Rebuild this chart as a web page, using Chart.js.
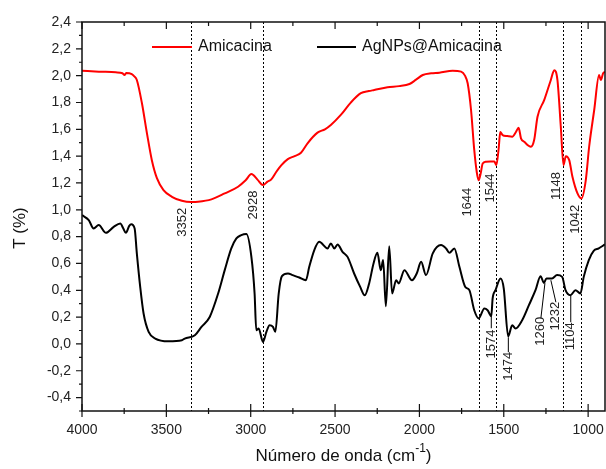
<!DOCTYPE html>
<html>
<head>
<meta charset="utf-8">
<script src="https://cdn.jsdelivr.net/npm/chart.js@4"></script>
<style>html,body{margin:0;background:#fff}</style>
</head>
<body>
<canvas id="ftir" width="606" height="469"></canvas>
<script>
// espectro FTIR: número de onda (cm-1) y transmitancia
const amicacinaWave = [4000,3900,3800,3760,3748,3738,3705,3690,3675,3645,3615,3586,3556,3517,3467,3408,3352,3312,3233,3154,3075,3030,2996,2960,2928,2900,2878,2850,2818,2780,2740,2702,2663,2604,2560,2525,2466,2407,2347,2300,2268,2189,2120,2059,2020,1980,1930,1882,1803,1753,1730,1714,1694,1675,1660,1649,1637,1625,1605,1580,1556,1544,1530,1521,1507,1480,1450,1428,1412,1398,1379,1339,1320,1300,1260,1221,1201,1182,1162,1146,1132,1112,1093,1063,1040,1014,994,964,935,925,911,900];
const amicacinaT = [2.037,2.03,2.025,2.018,2.005,2.02,2.012,1.995,1.968,1.796,1.57,1.37,1.236,1.147,1.097,1.067,1.058,1.06,1.078,1.122,1.172,1.22,1.266,1.225,1.184,1.21,1.227,1.28,1.333,1.378,1.40,1.425,1.496,1.575,1.60,1.632,1.707,1.799,1.869,1.885,1.893,1.913,1.922,1.938,1.97,2.005,2.018,2.022,2.037,2.03,2.0,1.943,1.744,1.446,1.28,1.22,1.27,1.345,1.358,1.36,1.36,1.333,1.46,1.58,1.557,1.55,1.545,1.58,1.612,1.533,1.507,1.47,1.52,1.694,1.819,1.968,2.04,1.968,1.619,1.333,1.40,1.37,1.246,1.122,1.085,1.22,1.47,1.744,2.005,1.968,2.018,2.03];

const agnpsWave = [4000,3960,3931,3901,3858,3812,3773,3755,3740,3720,3708,3688,3675,3655,3635,3605,3566,3487,3408,3391,3331,3292,3243,3193,3154,3115,3085,3056,3026,2996,2977,2967,2953,2927,2907,2888,2868,2854,2834,2815,2779,2752,2712,2673,2653,2623,2594,2544,2525,2505,2485,2456,2426,2387,2351,2324,2298,2272,2249,2229,2215,2199,2179,2162,2138,2123,2089,2044,2016,1990,1961,1921,1872,1842,1822,1793,1763,1728,1704,1675,1649,1615,1596,1574,1566,1549,1519,1500,1474,1450,1430,1391,1351,1312,1282,1262,1247,1214,1184,1154,1134,1105,1075,1046,1026,996,967,937,900];
const agnpsT = [0.96,0.923,0.861,0.886,0.828,0.873,0.898,0.86,0.828,0.88,0.893,0.861,0.675,0.425,0.227,0.09,0.04,0.02,0.028,0.04,0.065,0.127,0.201,0.376,0.55,0.712,0.787,0.811,0.819,0.649,0.376,0.102,0.115,0.015,0.09,0.14,0.127,0.09,0.376,0.505,0.525,0.513,0.495,0.475,0.575,0.7,0.761,0.712,0.749,0.712,0.742,0.687,0.649,0.525,0.425,0.363,0.451,0.6,0.679,0.55,0.625,0.281,0.729,0.376,0.475,0.451,0.55,0.475,0.525,0.612,0.513,0.675,0.737,0.712,0.679,0.712,0.575,0.425,0.401,0.251,0.19,0.264,0.251,0.207,0.339,0.401,0.488,0.413,0.057,0.14,0.115,0.177,0.289,0.401,0.505,0.455,0.488,0.488,0.513,0.5,0.401,0.363,0.401,0.376,0.5,0.625,0.694,0.712,0.742];

const xTicks = [4000,3500,3000,2500,2000,1500,1000];
const xMinor = [3750,3250,2750,2250,1750,1250];
const yTicks = [-0.4,-0.2,0,0.2,0.4,0.6,0.8,1.0,1.2,1.4,1.6,1.8,2.0,2.2,2.4];
const yMinor = [-0.5,-0.3,-0.1,0.1,0.3,0.5,0.7,0.9,1.1,1.3,1.5,1.7,1.9,2.1,2.3];

// bandas marcadas con línea punteada
const bandas = [3352,2928,1644,1544,1148,1042];
// T donde queda el centro de cada etiqueta
const bandasLabelT = [0.907,1.035,1.057,1.162,1.177,0.93];
const bandasShift = [-9,-9,-12,-6,-7,-6];

// bandas de AgNPs@Amicacina con línea guía: [w inicio, T inicio, w fin, T fin, T texto]
const marcas = [1574,1474,1260,1232,1104];
const marcasGuia = [
    [1574,0.207,1574,0.117,0.0],
    [1473,0.05,1473,-0.062,-0.166],
    [1256,0.453,1280,0.192,0.095],
    [1221,0.475,1191,0.311,0.207],
    [1103,0.363,1103,0.162,0.057],
];

const FONT = '"Liberation Sans", Arial, sans-serif';

function toPoints(ws, ts) {
    return ws.map((w, i) => ({x: w, y: ts[i]}));
}

function vText(ctx, text, x, y) {
    ctx.save();
    ctx.translate(x, y);
    ctx.rotate(-Math.PI / 2);
    ctx.fillText(text, 0, 0);
    ctx.restore();
}

const decor = {
    id: 'decor',
    beforeDatasetsDraw(chart) {
        const {ctx, chartArea: a, scales: {x}} = chart;
        ctx.save();
        ctx.strokeStyle = '#000';
        ctx.lineWidth = 1;
        ctx.setLineDash([2, 2]);
        bandas.forEach(w => {
            const px = Math.round(x.getPixelForValue(w)) + 0.5;
            ctx.beginPath();
            ctx.moveTo(px, a.top);
            ctx.lineTo(px, a.bottom);
            ctx.stroke();
        });
        ctx.restore();
    },
    afterDraw(chart) {
        const {ctx, chartArea: a, scales: {x, y}} = chart;
        ctx.save();
        // marco
        ctx.strokeStyle = '#111';
        ctx.lineWidth = 1.5;
        ctx.strokeRect(a.left, a.top, a.right - a.left, a.bottom - a.top);
        // marcas de los ejes
        ctx.lineWidth = 1.2;
        ctx.beginPath();
        xTicks.forEach(w => {
            const px = x.getPixelForValue(w);
            ctx.moveTo(px, a.bottom - 7); ctx.lineTo(px, a.bottom + 6);
            ctx.moveTo(px, a.top); ctx.lineTo(px, a.top + 7);
        });
        xMinor.forEach(w => {
            const px = x.getPixelForValue(w);
            ctx.moveTo(px, a.bottom - 3); ctx.lineTo(px, a.bottom + 3);
            ctx.moveTo(px, a.top); ctx.lineTo(px, a.top + 4);
        });
        yTicks.forEach(v => {
            const py = y.getPixelForValue(v);
            ctx.moveTo(a.left - 6, py); ctx.lineTo(a.left, py);
        });
        yMinor.forEach(v => {
            const py = y.getPixelForValue(v);
            ctx.moveTo(a.left - 3, py); ctx.lineTo(a.left, py);
        });
        ctx.stroke();

        // etiquetas de bandas
        ctx.fillStyle = '#222';
        ctx.font = '13px ' + FONT;
        ctx.textAlign = 'center';
        ctx.textBaseline = 'middle';
        bandas.forEach((w, i) => {
            vText(ctx, String(w), x.getPixelForValue(w) + bandasShift[i], y.getPixelForValue(bandasLabelT[i]));
        });
        ctx.strokeStyle = '#000';
        ctx.lineWidth = 1;
        marcas.forEach((m, i) => {
            const g = marcasGuia[i];
            ctx.beginPath();
            ctx.moveTo(x.getPixelForValue(g[0]), y.getPixelForValue(g[1]));
            ctx.lineTo(x.getPixelForValue(g[2]), y.getPixelForValue(g[3]));
            ctx.stroke();
            vText(ctx, String(m), x.getPixelForValue(g[2]), y.getPixelForValue(g[4]));
        });

        // leyenda
        ctx.font = '16px ' + FONT;
        ctx.textAlign = 'left';
        ctx.lineWidth = 2;
        const ly = a.top + 25;
        ctx.strokeStyle = '#ff0000';
        ctx.beginPath(); ctx.moveTo(152, ly); ctx.lineTo(192, ly); ctx.stroke();
        ctx.fillStyle = '#111';
        ctx.fillText('Amicacina', 198, ly);
        ctx.strokeStyle = '#000';
        ctx.beginPath(); ctx.moveTo(317, ly); ctx.lineTo(356, ly); ctx.stroke();
        ctx.fillText('AgNPs@Amicacina', 362, ly);

        // títulos de ejes
        ctx.font = '17px ' + FONT;
        ctx.textAlign = 'center';
        vText(ctx, 'T (%)', 20, 228);
        const t1 = 'Número de onda (cm', sup = '-1', t2 = ')';
        const w1 = ctx.measureText(t1).width, w2 = ctx.measureText(t2).width;
        ctx.font = '12px ' + FONT;
        const ws = ctx.measureText(sup).width;
        let sx = (a.left + a.right) / 2 - (w1 + ws + w2) / 2;
        ctx.textAlign = 'left';
        ctx.textBaseline = 'alphabetic';
        ctx.font = '17px ' + FONT;
        ctx.fillText(t1, sx, 461);
        ctx.font = '12px ' + FONT;
        ctx.fillText(sup, sx + w1, 452);
        ctx.font = '17px ' + FONT;
        ctx.fillText(t2, sx + w1 + ws, 461);
        ctx.restore();
    }
};

new Chart(document.getElementById('ftir'), {
    type: 'line',
    data: {
        datasets: [
            {
                label: 'Amicacina',
                data: toPoints(amicacinaWave, amicacinaT),
                borderColor: '#ff0000',
                borderWidth: 2,
                pointRadius: 0,
                cubicInterpolationMode: 'monotone',
            },
            {
                label: 'AgNPs@Amicacina',
                data: toPoints(agnpsWave, agnpsT),
                borderColor: '#000',
                borderWidth: 2,
                pointRadius: 0,
                cubicInterpolationMode: 'monotone',
            }
        ]
    },
    options: {
        responsive: false,
        animation: false,
        devicePixelRatio: 1,
        layout: {padding: {top: 22, right: 1, left: 0, bottom: 0}},
        scales: {
            x: {
                type: 'linear',
                reverse: true,
                min: 900,
                max: 4000,
                grid: {display: false, drawTicks: false},
                border: {display: false},
                afterBuildTicks: s => { s.ticks = xTicks.map(v => ({value: v})); },
                afterFit: s => { s.height = 58; s.paddingLeft = 0; s.paddingRight = 0; },
                ticks: {
                    padding: 11,
                    color: '#222',
                    font: {family: FONT, size: 14},
                    maxRotation: 0,
                    callback: v => String(v),
                }
            },
            y: {
                min: -0.5,
                max: 2.4,
                grid: {display: false, drawTicks: false},
                border: {display: false},
                afterBuildTicks: s => { s.ticks = yTicks.map(v => ({value: v})); },
                afterFit: s => { s.width = 82; s.paddingTop = 0; s.paddingBottom = 0; },
                ticks: {
                    padding: 11,
                    color: '#222',
                    font: {family: FONT, size: 14},
                    callback: v => v.toFixed(1).replace('.', ','),
                }
            }
        },
        plugins: {
            legend: {display: false},
            tooltip: {enabled: false}
        }
    },
    plugins: [decor]
});
</script>
</body>
</html>
